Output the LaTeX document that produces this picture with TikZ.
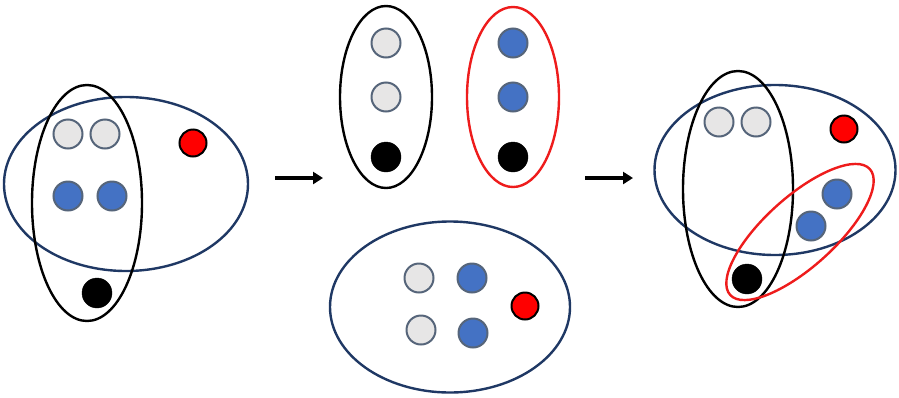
\documentclass[tikz,border=0pt]{standalone}
\usetikzlibrary{shapes.geometric,arrows.meta}
\definecolor{navy}{HTML}{1F3864}
\definecolor{dotgray}{HTML}{E7E6E6}
\definecolor{dotblue}{HTML}{4472C4}
\definecolor{dotedge}{HTML}{56657A}
\definecolor{setred}{HTML}{EE1C1C}
\tikzset{
  setA/.style={ellipse, draw=navy, line width=2.4pt, inner sep=0pt},
  setB/.style={ellipse, draw=black, line width=2.4pt, inner sep=0pt},
  setC/.style={ellipse, draw=setred, line width=2.4pt, inner sep=0pt},
  gdot/.style={circle, minimum size=29pt, inner sep=0pt, fill=dotgray, draw=dotedge, line width=2pt},
  bdot/.style={circle, minimum size=29pt, inner sep=0pt, fill=dotblue, draw=dotedge, line width=2pt},
  kdot/.style={circle, minimum size=30pt, inner sep=0pt, fill=black, draw=black},
  rdot/.style={circle, minimum size=27pt, inner sep=0pt, fill=red, draw=black, line width=2pt},
  flow/.style={line width=3.6pt, -{Triangle[length=10pt,width=12pt]}}
}
\begin{document}
\begin{tikzpicture}[x=1pt,y=-1pt]
\useasboundingbox (0,0) rectangle (899,397);
% left: two overlapping sets
\node[setA, minimum width=244pt, minimum height=174pt] (LA) at (126,184) {};
\node[setB, minimum width=110pt, minimum height=236pt] (LB) at (87,203) {};
\node[gdot] (lg1) at (68,134) {};
\node[gdot] (lg2) at (105,134) {};
\node[bdot] (lb1) at (68,196) {};
\node[bdot] (lb2) at (112,196) {};
\node[kdot] (lk) at (97,293) {};
\node[rdot] (lr) at (193,143) {};
% arrows
\coordinate (a1s) at (275,178);
\coordinate (a1e) at (323,178);
\coordinate (a2s) at (585,178);
\coordinate (a2e) at (633,178);
\draw[flow] (a1s) -- (a1e);
\draw[flow] (a2s) -- (a2e);
% middle: separated sets
\node[setB, minimum width=92pt, minimum height=182pt] (MB) at (386,97) {};
\node[gdot] (mg1) at (386,43) {};
\node[gdot] (mg2) at (386,97) {};
\node[kdot] (mk1) at (386,157) {};
\node[setC, minimum width=92pt, minimum height=180pt] (MC) at (513,97) {};
\node[bdot] (mb1) at (513,43) {};
\node[bdot] (mb2) at (513,97) {};
\node[kdot] (mk2) at (513,157) {};
\node[setA, minimum width=240pt, minimum height=171pt] (MA) at (450,307) {};
\node[gdot] (mg3) at (419,278) {};
\node[gdot] (mg4) at (421,330) {};
\node[bdot] (mb3) at (472,278) {};
\node[bdot] (mb4) at (473,333) {};
\node[rdot] (mr) at (525,306) {};
% right: three overlapping sets
\node[setA, minimum width=241pt, minimum height=170pt] (RA) at (775,170) {};
\node[setB, minimum width=110pt, minimum height=236pt] (RB) at (738,189) {};
\node[setC, minimum width=188pt, minimum height=70pt, rotate=42] (RC) at (800,232) {};
\node[gdot] (rg1) at (719,122) {};
\node[gdot] (rg2) at (756,122) {};
\node[rdot] (rr) at (844,129) {};
\node[bdot] (rb1) at (837,194) {};
\node[bdot] (rb2) at (811,226) {};
\node[kdot] (rk) at (747,279) {};
\end{tikzpicture}
\end{document}
